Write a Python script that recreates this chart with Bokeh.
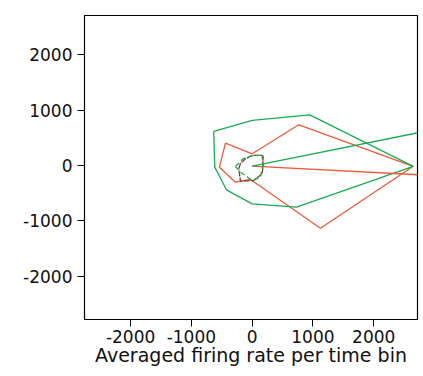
from bokeh.plotting import figure
from bokeh.models import Range1d, FixedTicker
from bokeh.embed import file_html
from bokeh.resources import INLINE

# Red trajectory (closed loop through the centre)
red_x = [0, -439, -538, -275, -28, 1123, 2650, 767, 0]
red_y = [211, 403, -31, -302, -253, -1134, -15, 736, 211]
# Green trajectory (closed loop)
green_x = [-632, 0, 948, 2650, 729, 0, -423, -615, -632]
green_y = [615, 814, 916, -15, -754, -693, -440, -30, 615]
# Radial lines from the origin
red_ray_x = [0, 3000]
red_ray_y = [-10, -183]
green_ray_x = [0, 3000]
green_ray_y = [-10, 652]
# Small dashed loops near the origin
dred_x = [-220, -192, -110, 0, 164, 181, 164, 26, -192, -220]
dred_y = [-60, 36, 121, 181, 181, 0, -150, -271, -284, -60]
dgreen_x = [-275, -143, 21, 186, 170, 136, 0, -192, -275]
dgreen_y = [-18, 127, 181, 181, -36, -212, -271, -121, -18]

x_ticks = [-2000, -1000, 0, 1000, 2000]
y_ticks = [-2000, -1000, 0, 1000, 2000]
tick_labels = ["-2000", "-1000", "0", "1000", "2000"]

RED = "#ee5a3c"
GREEN = "#1aab52"
DRED = "#8a3b2b"

p = figure(output_backend="svg", toolbar_location=None,
           x_range=Range1d(-2758, 2720), y_range=Range1d(-2785, 2712),
           frame_width=333, frame_height=304,
           min_border_left=84, min_border_right=2, min_border_top=15,
           min_border_bottom=10)

p.line(red_x, red_y, color=RED, line_width=1.3)
p.line(green_x, green_y, color=GREEN, line_width=1.3)
p.line(red_ray_x, red_ray_y, color=RED, line_width=1.3)
p.line(green_ray_x, green_ray_y, color=GREEN, line_width=1.3)
p.line(dred_x, dred_y, color=DRED, line_width=1.3, line_dash="6 1")
p.line(dgreen_x, dgreen_y, color=GREEN, line_width=1.3, line_dash="5 3")

p.xgrid.visible = False
p.ygrid.visible = False
p.outline_line_color = "black"
p.outline_line_width = 1.2

for ax in (p.xaxis, p.yaxis):
    ax.minor_tick_line_color = None
    ax.major_tick_out = 7
    ax.major_tick_in = 0
    ax.axis_line_color = "black"
    ax.major_tick_line_color = "black"
    ax.major_label_text_font = "DejaVu Sans"
    ax.major_label_text_font_size = "17px"
    ax.major_label_text_color = "#111111"
    ax.axis_label_text_font = "DejaVu Sans"
    ax.axis_label_text_font_size = "19px"
    ax.axis_label_text_font_style = "normal"
    ax.axis_label_text_color = "#111111"

p.xaxis.ticker = FixedTicker(ticks=x_ticks)
p.yaxis.ticker = FixedTicker(ticks=y_ticks)
p.xaxis.major_label_overrides = dict(zip(x_ticks, tick_labels))
p.yaxis.major_label_overrides = dict(zip(y_ticks, tick_labels))
p.xaxis.axis_label = "Averaged firing rate per time bin"
p.xaxis.axis_label_standoff = -2
p.xaxis.major_label_standoff = 3
p.yaxis.major_label_standoff = 5

open("out.html", "w").write(file_html(p, INLINE))
